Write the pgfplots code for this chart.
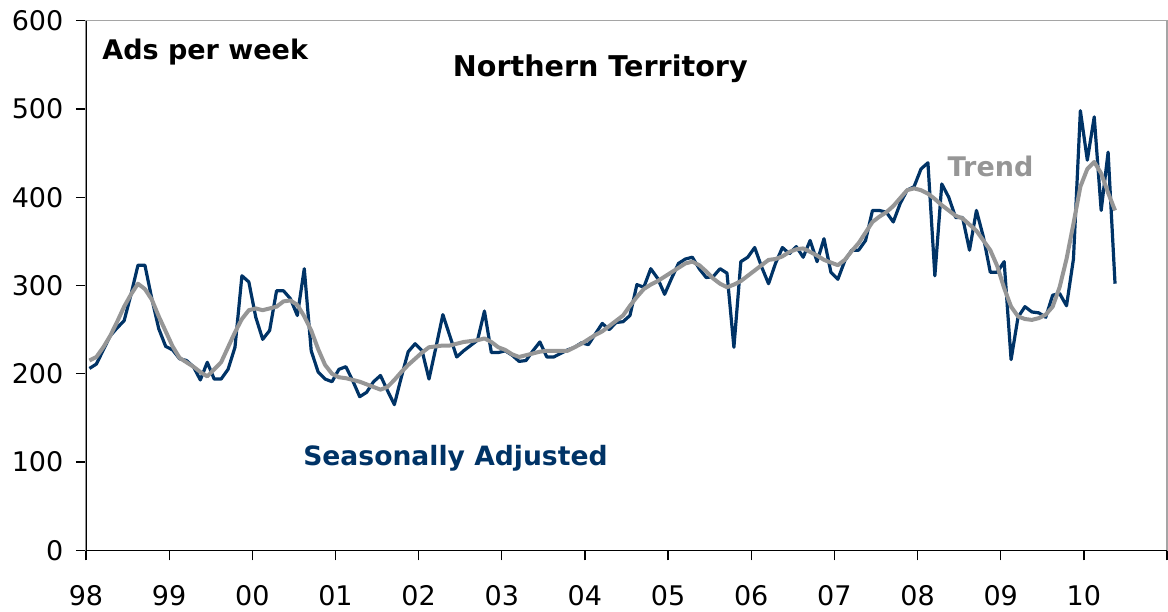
\documentclass[border=0pt]{standalone}
\usepackage{pgfplots}
\usepackage{pgfplotstable}
\pgfplotsset{compat=1.18}
\usepackage{fontspec}
\setmainfont{DejaVu Sans}
\usetikzlibrary{calc}
\definecolor{navy}{RGB}{0,51,102}
\definecolor{trendgray}{RGB}{150,150,150}
\definecolor{bordergray}{RGB}{165,165,165}

\pgfplotstableread{
sa tr
206 215
211 219
227 230
243 243
252 259
260 276
290 290
323 302
323 296
285 284
251 265
231 248
227 231
217 218
215 213
208 208
193 202
213 197
194 205
194 213
205 230
230 247
311 262
304 272
264 274
239 272
249 274
294 276
294 282
285 283
266 278
319 265
226 249
202 228
194 210
191 200
205 196
208 195
192 193
174 191
179 188
191 185
198 182
181 185
165 193
196 202
225 210
234 217
226 224
194 230
230 231
267 232
243 232
219 234
226 236
232 237
238 238
271 240
224 236
224 230
226 227
221 222
214 219
215 221
226 223
236 225
219 226
219 226
223 226
227 226
230 230
235 234
233 239
245 244
257 248
250 254
258 260
259 266
266 277
301 287
298 296
319 301
308 305
290 310
308 315
325 320
330 325
332 327
319 323
309 316
310 308
319 302
314 298
230 301
327 305
332 311
343 317
321 323
302 329
325 330
343 333
336 338
344 341
332 342
351 338
327 334
353 329
315 326
307 323
328 329
340 339
340 348
351 360
385 372
385 378
383 383
372 390
393 399
408 408
412 410
432 408
439 404
311 398
415 391
400 385
377 379
377 376
340 369
385 362
355 351
315 340
315 322
327 297
216 276
264 265
276 262
270 261
269 263
264 267
289 276
291 298
277 330
330 370
498 412
442 432
491 440
385 427
451 405
302 385
}\datatable

\begin{document}
\begin{tikzpicture}
\begin{axis}[
  scale only axis,
  width=540.5pt, height=264.8pt,
  xmin=0, xmax=156, ymin=0, ymax=600,
  axis line style={bordergray, line width=0.6pt},
  xtick={0,12,...,156},
  xticklabels={98,99,00,01,02,03,04,05,06,07,08,09,10,{}},
  ytick={0,100,...,600},
  tick pos=left,
  tick align=outside,
  major tick length=5pt,
  tick style={black, line width=0.65pt},
  /pgf/number format/assume math mode=true,
  every tick label/.append style={font=\fontsize{13.5pt}{16pt}\selectfont},
  yticklabel style={anchor=east, inner sep=0pt, xshift=-6.15pt},
  xticklabel style={anchor=north, inner sep=0pt, yshift=-12.35pt},
]
\addplot[navy, line width=1.6pt, line join=round] table[x expr=\coordindex+0.5, y=sa]{\datatable};
\addplot[trendgray, line width=2pt, line join=round] table[x expr=\coordindex+0.5, y=tr]{\datatable};
\draw[black, line width=0.65pt] (rel axis cs:0,1) -- (rel axis cs:0,0) -- (rel axis cs:1,0);
\node[anchor=base west, inner sep=0pt, font=\bfseries\fontsize{13.5pt}{16pt}\selectfont] at (axis cs:2.31,555.5) {Ads per week};
\node[anchor=base west, inner sep=0pt, font=\bfseries\fontsize{14.3pt}{17pt}\selectfont] at (axis cs:52.9,536.5) {Northern Territory};
\node[anchor=base west, inner sep=0pt, text=trendgray, font=\bfseries\fontsize{13.5pt}{16pt}\selectfont] at (axis cs:124.3,424.0) {Trend};
\node[anchor=base west, inner sep=0pt, text=navy, font=\bfseries\fontsize{13.3pt}{16pt}\selectfont] at (axis cs:31.3,96.6) {Seasonally Adjusted};
\end{axis}
\pgfresetboundingbox
\useasboundingbox ($(current axis.south west)+(-43pt,-30.85pt)$) rectangle ($(current axis.north east)+(0.5pt,10.35pt)$);
\end{tikzpicture}
\end{document}
